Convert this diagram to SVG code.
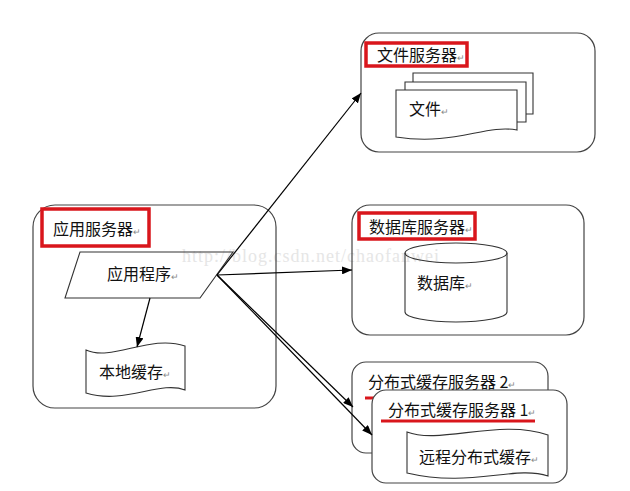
<svg xmlns="http://www.w3.org/2000/svg" width="630" height="491" viewBox="0 0 630 491">
<defs>
<marker id="ah" viewBox="0 0 10 10" refX="10" refY="5" markerWidth="10" markerHeight="8" markerUnits="userSpaceOnUse" orient="auto" preserveAspectRatio="none"><path d="M0,0 L10,5 L0,10 Z" fill="#000"/></marker>
<style>
.box{fill:#fff;stroke:#444;stroke-width:1.2}
.shape{fill:#fff;stroke:#333;stroke-width:1.1}
.red{fill:none;stroke:#d9161c;stroke-width:3.5}
.t{font-family:"Noto Sans CJK SC","Noto Sans",sans-serif;font-size:16px;fill:#111}
.rt{font-size:9px;fill:#888}
.conn{fill:none;stroke:#000;stroke-width:1.2;marker-end:url(#ah)}
.wm{font-family:"Liberation Serif",serif;font-size:18px;fill:#e6e6e6;letter-spacing:1px}
</style>
</defs>
<rect width="630" height="491" fill="#fff"/>

<text class="wm" x="182" y="262">http://blog.csdn.net/chaofanwei</text>

<g id="app-server">
<rect class="box" x="33" y="205" width="243" height="203" rx="22" fill-opacity="0"/>
<rect class="red" x="42" y="209" width="107" height="37"/>
<text class="t" x="53" y="235">应用服务器<tspan class="rt">↵</tspan></text>
</g>
<g id="app-program">
<path class="shape" d="M80,252 L233,252 L200,298 L65,298 Z" fill-opacity="0"/>
<text class="t" x="107" y="280">应用程序<tspan class="rt">↵</tspan></text>
</g>
<g id="local-cache">
<path class="shape" d="M86,350 C112,362 150,334 185,346 L185,390 C160,380 125,405 86,393 Z"/>
<text class="t" x="99" y="378">本地缓存<tspan class="rt">↵</tspan></text>
</g>

<g id="file-server">
<rect class="box" x="361" y="33" width="234" height="119" rx="18"/>
<rect class="red" x="366" y="43" width="101" height="23"/>
<text class="t" x="377" y="61">文件服务器<tspan class="rt">↵</tspan></text>
<path class="shape" d="M413,73 L533,73 L533,114 L413,114 Z"/>
<path class="shape" d="M405,82 L526,82 L526,122 L405,122 Z"/>
<path class="shape" d="M396,90 L517,90 L517,130 C485,124 455,146 396,137 Z"/>
<text class="t" x="409" y="115">文件<tspan class="rt">↵</tspan></text>
</g>

<g id="db-server">
<rect class="box" x="352" y="205" width="232" height="130" rx="18" fill-opacity="0"/>
<rect class="red" x="359" y="213" width="116" height="26"/>
<text class="t" x="369" y="233">数据库服务器<tspan class="rt">↵</tspan></text>
<path class="shape" d="M405,253 L405,312 A51,10 0 0 0 507,312 L507,253" fill-opacity="0"/>
<ellipse class="shape" cx="456" cy="253" rx="51" ry="10" fill-opacity="0"/>
<text class="t" x="417" y="289">数据库<tspan class="rt">↵</tspan></text>
</g>

<g id="cache-server-2">
<rect class="box" x="352" y="362" width="196" height="91" rx="14"/>
<text class="t" x="368" y="388">分布式缓存服务器 2<tspan class="rt">↵</tspan></text>
<line x1="365" y1="398" x2="518" y2="398" stroke="#d9161c" stroke-width="3"/>
</g>
<g id="cache-server-1">
<rect class="box" x="372" y="390" width="195" height="93" rx="14"/>
<text class="t" x="388" y="416">分布式缓存服务器 1<tspan class="rt">↵</tspan></text>
<line x1="381" y1="421" x2="535" y2="421" stroke="#d9161c" stroke-width="3"/>
</g>
<g id="remote-cache">
<path class="shape" d="M407,432 C440,445 500,418 548,435 L548,476 C515,465 470,488 407,473 Z"/>
<text class="t" x="419" y="463">远程分布式缓存<tspan class="rt">↵</tspan></text>
</g>

<g id="connectors">
<line class="conn" x1="150" y1="298" x2="137" y2="347"/>
<line class="conn" x1="217" y1="275" x2="361" y2="93"/>
<line class="conn" x1="217" y1="275" x2="352" y2="270"/>
<line class="conn" x1="217" y1="275" x2="353" y2="407"/>
<line class="conn" x1="217" y1="275" x2="372" y2="435"/>
</g>
</svg>
